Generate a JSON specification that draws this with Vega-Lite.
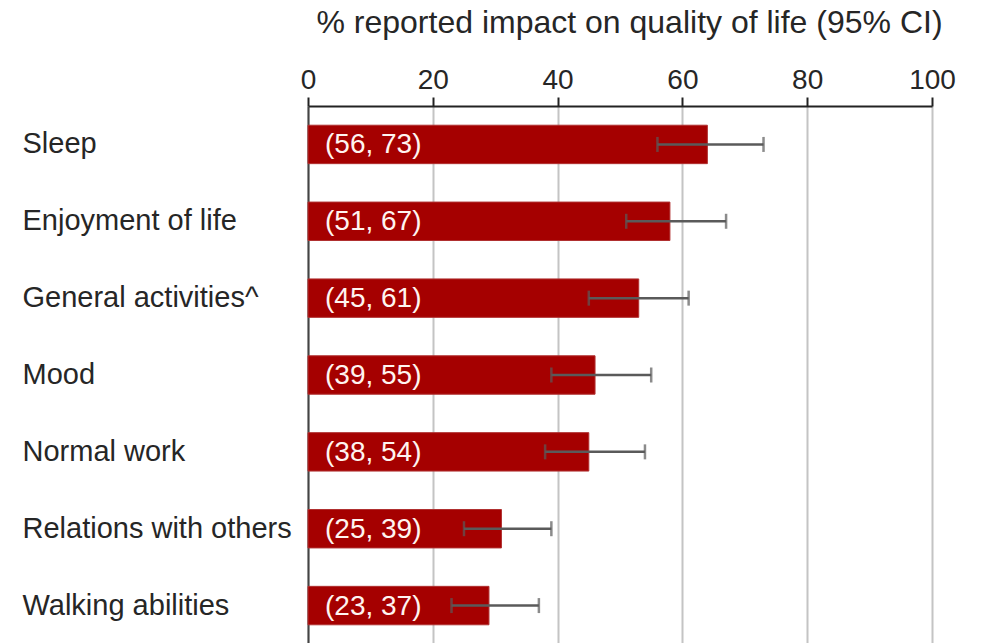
{
  "$schema": "https://vega.github.io/schema/vega-lite/v6.json",
  "autosize": {"type": "none"},
  "padding": {"left": 308, "top": 106, "right": 52, "bottom": 0},
  "width": 624,
  "height": 538,
  "background": "white",
  "config": {
    "view": {"stroke": null},
    "font": "Liberation Sans"
  },
  "data": {
    "values": [
      {"domain": "Sleep", "pct": 64, "lo": 56, "hi": 73},
      {"domain": "Enjoyment of life", "pct": 58, "lo": 51, "hi": 67},
      {"domain": "General activities^", "pct": 53, "lo": 45, "hi": 61},
      {"domain": "Mood", "pct": 46, "lo": 39, "hi": 55},
      {"domain": "Normal work", "pct": 45, "lo": 38, "hi": 54},
      {"domain": "Relations with others", "pct": 31, "lo": 25, "hi": 39},
      {"domain": "Walking abilities", "pct": 29, "lo": 23, "hi": 37}
    ]
  },
  "transform": [
    {"calculate": "'(' + datum.lo + ', ' + datum.hi + ')'", "as": "ci_label"}
  ],
  "encoding": {
    "y": {
      "field": "domain",
      "type": "nominal",
      "sort": null,
      "title": null,
      "scale": {"paddingInner": 0.5, "paddingOuter": 0.25},
      "axis": {
        "ticks": false,
        "labelAlign": "left",
        "labelPadding": 286,
        "labelFontSize": 29,
        "labelColor": "#262626",
        "labelLimit": 300,
        "domainColor": "#444444",
        "domainWidth": 2
      }
    }
  },
  "layer": [
    {
      "mark": {"type": "bar", "color": "#a50000", "stroke": "#b03030", "strokeWidth": 1},
      "encoding": {
        "x": {
          "field": "pct",
          "type": "quantitative",
          "scale": {"domain": [0, 100], "nice": false},
          "axis": {
            "orient": "top",
            "values": [0, 20, 40, 60, 80, 100],
            "title": "% reported impact on quality of life (95% CI)",
            "titleFontSize": 32,
            "titleFontWeight": "normal",
            "titleColor": "#262626",
            "titleBaseline": "alphabetic",
            "titleY": -74,
            "titleX": 321,
            "labelFontSize": 28,
            "labelColor": "#262626",
            "labelBaseline": "alphabetic",
            "labelPadding": 9,
            "labelFlush": false,
            "tickSize": 9,
            "tickWidth": 2,
            "tickColor": "#222222",
            "domainColor": "#222222",
            "domainWidth": 2,
            "grid": true,
            "gridColor": "#c4c4c4",
            "gridWidth": 2
          }
        }
      }
    },
    {
      "mark": {"type": "rule", "color": "#5a5a5a", "strokeWidth": 2.5},
      "encoding": {
        "x": {"field": "lo", "type": "quantitative"},
        "x2": {"field": "hi"}
      }
    },
    {
      "mark": {"type": "tick", "color": "#5a5a5a", "thickness": 2.5, "size": 15, "orient": "vertical"},
      "encoding": {
        "x": {"field": "lo", "type": "quantitative"}
      }
    },
    {
      "mark": {"type": "tick", "color": "#5a5a5a", "thickness": 2.5, "size": 15, "orient": "vertical"},
      "encoding": {
        "x": {"field": "hi", "type": "quantitative"}
      }
    },
    {
      "mark": {"type": "text", "align": "left", "baseline": "middle", "dx": 17, "dy": 1, "color": "#fff4f0", "fontSize": 28},
      "encoding": {
        "x": {"datum": 0, "type": "quantitative"},
        "text": {"field": "ci_label", "type": "nominal"}
      }
    }
  ]
}
